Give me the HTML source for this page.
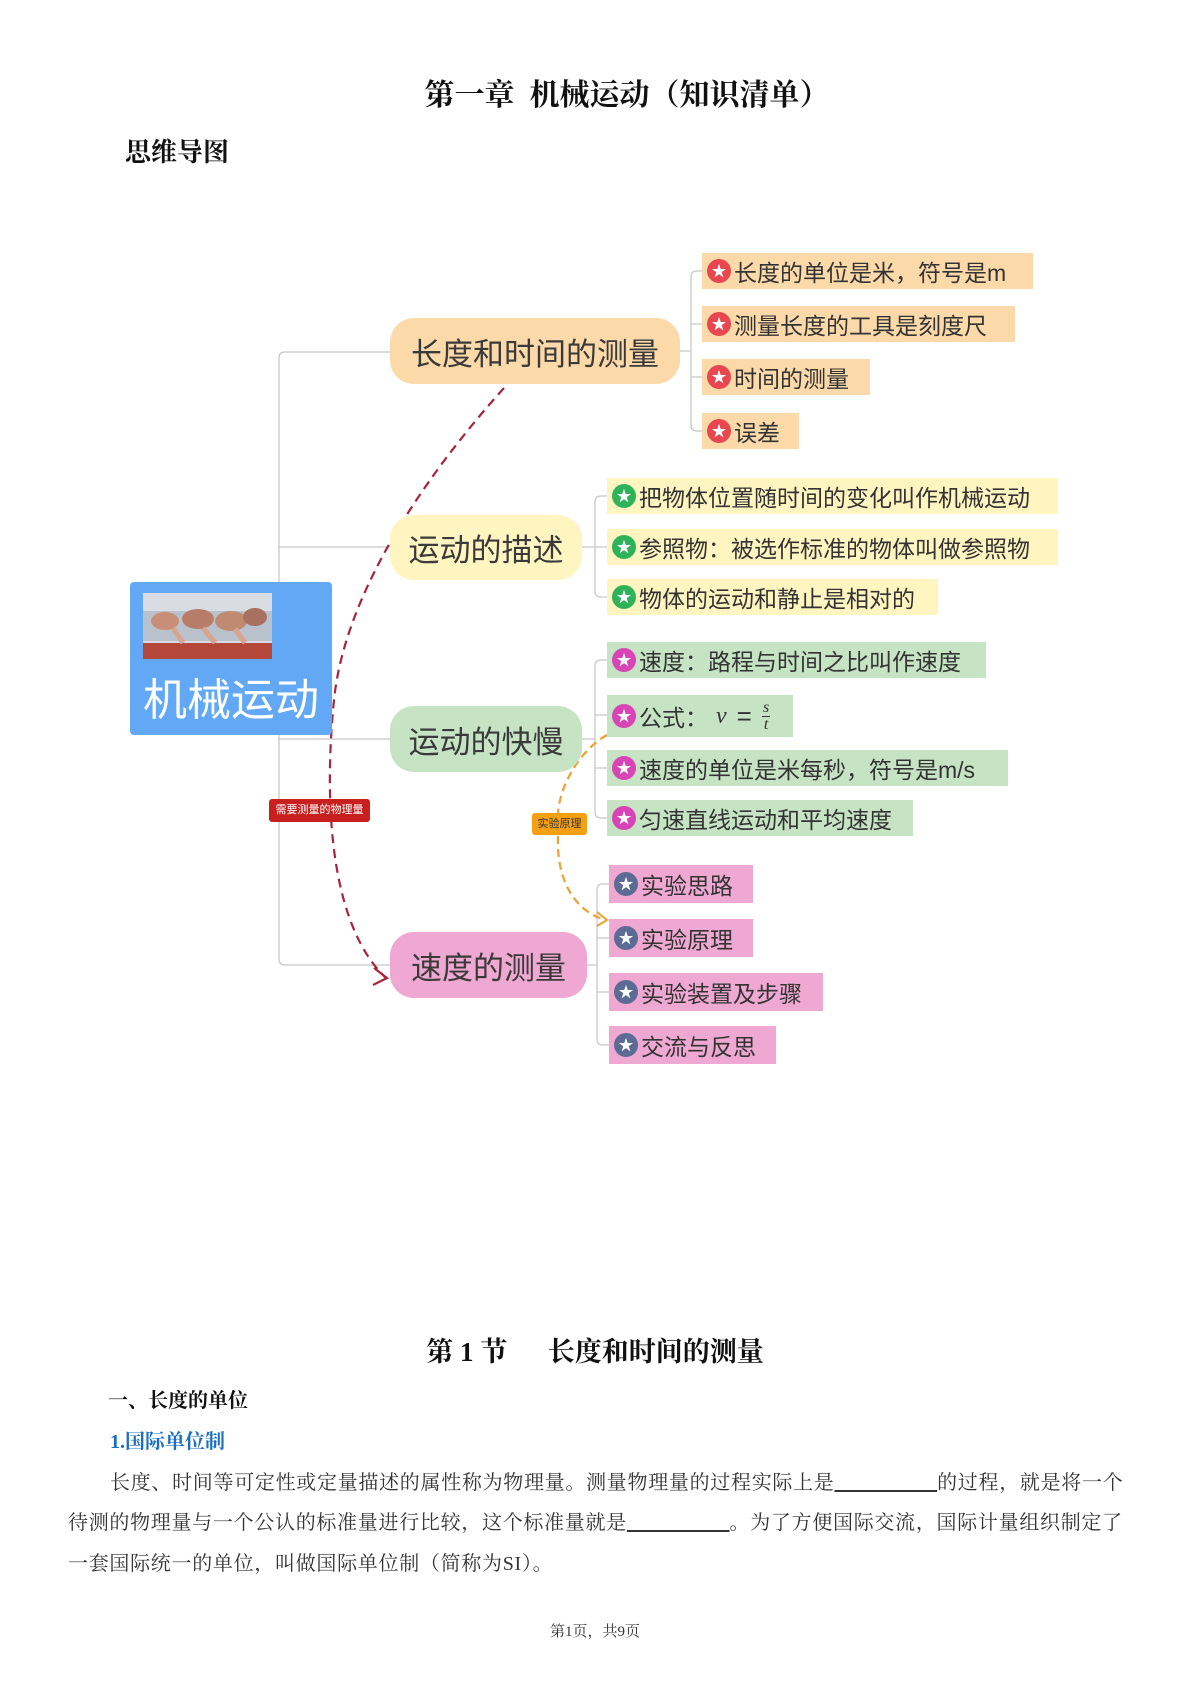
<!DOCTYPE html>
<html><head><meta charset="utf-8">
<style>
body{margin:0;width:1190px;height:1682px;background:#fff;position:relative;overflow:hidden;font-family:"Liberation Sans","Noto Sans CJK SC",sans-serif;}
.a{position:absolute;white-space:nowrap;}
.serif{font-family:"Liberation Serif","Noto Serif CJK SC",serif;}
.node{position:absolute;border-radius:24px;color:#3a3a3a;font-size:31px;display:flex;align-items:center;justify-content:center;}
.leaf{position:absolute;height:36px;font-size:23px;color:#333;display:flex;align-items:center;}
.ic{width:24px;height:24px;border-radius:50%;margin:0 3px 0 5px;display:flex;align-items:center;justify-content:center;color:#fff;font-size:15px;line-height:1;flex:none;}
.o{background:#fcd9a8}.y{background:#fff5c0}.g{background:#c6e4c4}.p{background:#eea8d2}
.io{background:#e8474f}.iy{background:#2fb35a}.ig{background:#d843b5}.ip{background:#5b6b93}
.para{position:absolute;font-size:20px;letter-spacing:0.7px;color:#333;font-family:"Liberation Serif","Noto Serif CJK SC",serif;white-space:nowrap;}
</style></head><body>
<div class="a serif" style="left:0;width:1254px;text-align:center;top:70px;font-size:30px;font-weight:bold;color:#111;">第一章&nbsp; 机械运动（知识清单）</div>
<div class="a serif" style="left:125px;top:132px;font-size:26px;font-weight:bold;color:#111;">思维导图</div>

<svg class="a" style="left:0;top:0" width="1190" height="1100">
<g fill="none" stroke="#c8c8c8" stroke-width="1.3">
<path d="M390,352 H285 Q279,352 279,358 V959 Q279,965 285,965 H390"/>
<path d="M279,547 H390 M279,739 H390"/>
<path d="M680,351 H691 M697,271 Q691,271 691,277 V425 Q691,431 697,431 H702 M697,271 H702 M691,324 H702 M691,377 H702"/>
<path d="M582,547 H595 M601,496 Q595,496 595,502 V591 Q595,597 601,597 H607 M601,496 H607 M595,547 H607"/>
<path d="M582,739 H595 M601,660 Q595,660 595,666 V812 Q595,818 601,818 H607 M601,660 H607 M595,715 H607 M595,768 H607"/>
<path d="M587,965 H597 M603,884 Q597,884 597,890 V1039 Q597,1045 603,1045 H609 M603,884 H609 M597,938 H609 M597,992 H609"/>
</g>
<path d="M504,388 C430,470 345,590 334,700 C322,820 335,930 386,978" fill="none" stroke="#a8243a" stroke-width="2.2" stroke-dasharray="9,6"/>
<path d="M374,968 L387,978 L373,985" fill="none" stroke="#a8243a" stroke-width="2.2"/>
<path d="M607,735 C580,750 560,785 558,813 M558,836 C556,880 575,912 606,920" fill="none" stroke="#f0a030" stroke-width="2.2" stroke-dasharray="8,5"/>
<path d="M597,912 L607,920 L597,926" fill="none" stroke="#f0a030" stroke-width="2"/>
</svg>

<div class="a" style="left:130px;top:582px;width:202px;height:153px;background:#62a8f5;border-radius:4px;"></div>
<svg class="a" style="left:143px;top:593px" width="129" height="66">
<rect width="129" height="66" fill="#d9dde3"/>
<rect y="18" width="129" height="30" fill="#b9c2cc"/>
<rect y="50" width="129" height="16" fill="#b4473a"/>
<ellipse cx="22" cy="28" rx="14" ry="9" fill="#c98e78"/>
<ellipse cx="55" cy="26" rx="16" ry="10" fill="#b87d68"/>
<ellipse cx="88" cy="28" rx="16" ry="10" fill="#c08a72"/>
<ellipse cx="112" cy="24" rx="12" ry="9" fill="#a8705e"/>
<path d="M30,35 l10,15 M60,35 l12,15 M92,36 l10,14" stroke="#d8a48e" stroke-width="5"/>
</svg>
<div class="a" style="left:130px;width:202px;text-align:center;top:664px;font-size:44px;color:#fff;">机械运动</div>

<div class="node o" style="left:390px;top:318px;width:290px;height:66px;">长度和时间的测量</div>
<div class="node y" style="left:390px;top:515px;width:192px;height:65px;">运动的描述</div>
<div class="node g" style="left:390px;top:706px;width:192px;height:66px;">运动的快慢</div>
<div class="node p" style="left:390px;top:932px;width:197px;height:66px;">速度的测量</div>

<div class="leaf o" style="left:702px;top:253px;width:331px;"><span class="ic io">★</span>长度的单位是米，符号是m</div>
<div class="leaf o" style="left:702px;top:306px;width:313px;"><span class="ic io">★</span>测量长度的工具是刻度尺</div>
<div class="leaf o" style="left:702px;top:359px;width:168px;"><span class="ic io">★</span>时间的测量</div>
<div class="leaf o" style="left:702px;top:413px;width:97px;"><span class="ic io">★</span>误差</div>

<div class="leaf y" style="left:607px;top:478px;width:451px;"><span class="ic iy">★</span>把物体位置随时间的变化叫作机械运动</div>
<div class="leaf y" style="left:607px;top:529px;width:451px;"><span class="ic iy">★</span>参照物：被选作标准的物体叫做参照物</div>
<div class="leaf y" style="left:607px;top:579px;width:331px;"><span class="ic iy">★</span>物体的运动和静止是相对的</div>

<div class="leaf g" style="left:607px;top:642px;width:379px;"><span class="ic ig">★</span>速度：路程与时间之比叫作速度</div>
<div class="leaf g" style="left:607px;top:695px;width:186px;height:42px;"><span class="ic ig">★</span>公式：<span class="serif" style="font-style:italic;margin-left:8px;font-size:24px;">v</span><span style="margin:0 10px;font-size:26px;">=</span><span class="serif" style="display:inline-flex;flex-direction:column;align-items:center;font-size:16px;font-style:italic;line-height:16px;"><span>s</span><span style="border-top:1px solid #333;padding:0 2px;">t</span></span></div>
<div class="leaf g" style="left:607px;top:750px;width:401px;"><span class="ic ig">★</span>速度的单位是米每秒，符号是m/s</div>
<div class="leaf g" style="left:607px;top:800px;width:306px;"><span class="ic ig">★</span>匀速直线运动和平均速度</div>

<div class="leaf p" style="left:609px;top:865px;width:144px;height:38px;"><span class="ic ip">★</span>实验思路</div>
<div class="leaf p" style="left:609px;top:919px;width:144px;height:38px;"><span class="ic ip">★</span>实验原理</div>
<div class="leaf p" style="left:609px;top:973px;width:214px;height:38px;"><span class="ic ip">★</span>实验装置及步骤</div>
<div class="leaf p" style="left:609px;top:1026px;width:167px;height:38px;"><span class="ic ip">★</span>交流与反思</div>

<div class="a" style="left:269px;top:799px;width:101px;height:23px;background:#c8201e;border-radius:3px;color:#fff;font-size:11px;text-align:center;line-height:23px;">需要测量的物理量</div>
<div class="a" style="left:532px;top:813px;width:55px;height:22px;background:#f5a013;border-radius:3px;color:#333;font-size:11px;text-align:center;line-height:22px;">实验原理</div>

<div class="a serif" style="left:0;width:1190px;text-align:center;top:1330px;font-size:27px;font-weight:bold;color:#111;">第 1 节&nbsp;&nbsp;&nbsp;&nbsp;&nbsp; 长度和时间的测量</div>
<div class="a serif" style="left:108px;top:1384px;font-size:20px;font-weight:bold;color:#111;">一、长度的单位</div>
<div class="a serif" style="left:110px;top:1425px;font-size:20px;font-weight:bold;color:#1a6fc0;">1.国际单位制</div>
<div class="para" style="left:110px;top:1466px;">长度、时间等可定性或定量描述的属性称为物理量。测量物理量的过程实际上是<u>&nbsp;&nbsp;&nbsp;&nbsp;&nbsp;&nbsp;&nbsp;&nbsp;&nbsp;&nbsp;&nbsp;&nbsp;&nbsp;&nbsp;&nbsp;&nbsp;&nbsp;&nbsp;</u>的过程，就是将一个</div>
<div class="para" style="left:68px;top:1506px;">待测的物理量与一个公认的标准量进行比较，这个标准量就是<u>&nbsp;&nbsp;&nbsp;&nbsp;&nbsp;&nbsp;&nbsp;&nbsp;&nbsp;&nbsp;&nbsp;&nbsp;&nbsp;&nbsp;&nbsp;&nbsp;&nbsp;&nbsp;</u>。为了方便国际交流，国际计量组织制定了</div>
<div class="para" style="left:68px;top:1547px;">一套国际统一的单位，叫做国际单位制（简称为SI）。</div>
<div class="a serif" style="left:0;width:1190px;text-align:center;top:1620px;font-size:15px;color:#333;">第1页，共9页</div>
</body></html>
